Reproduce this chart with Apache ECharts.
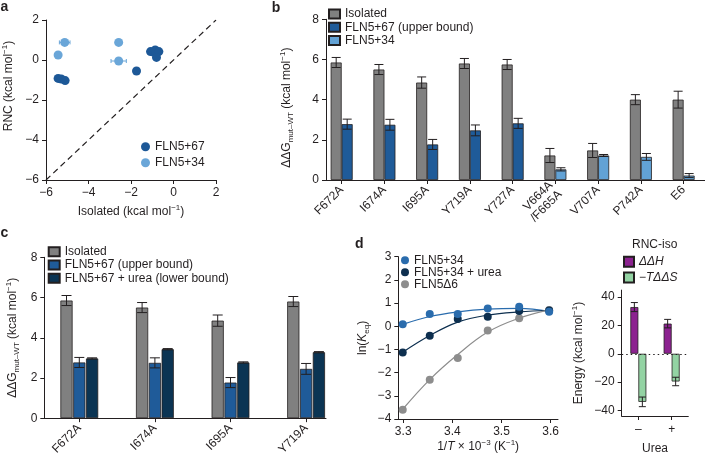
<!DOCTYPE html>
<html><head><meta charset="utf-8">
<script src="https://cdn.jsdelivr.net/npm/echarts@6/dist/echarts.min.js"></script>
<style>html,body{margin:0;padding:0;background:#fff}#c{width:705px;height:458px}</style>
</head><body><div id="c"></div>
<script>
// ---------- Panel a: RNC vs isolated ----------
const aX67 = [-5.43, -5.28, -5.10, -1.74, -1.08, -0.95, -0.86, -0.69, -0.80];
const aY67 = [-0.92, -0.95, -1.03, -0.55, 0.42, 0.40, 0.50, 0.42, 0.13];
const aX34 = [-5.12, -5.43, -2.58, -2.58];
const aY34 = [0.88, 0.25, 0.88, -0.05];
const aXErr34 = [0.25, 0, 0, 0.36];
const aDiag = [-6, 2];
const aTicks = [-6, -4, -2, 0, 2];

// ---------- Panel b ----------
const bCats = ['F672A', 'I674A', 'I695A', 'Y719A', 'Y727A', 'V664A\n/F665A', 'V707A', 'P742A', 'E6'];
const bIso = [5.85, 5.50, 4.85, 5.80, 5.75, 1.22, 1.47, 4.00, 4.00];
const bIsoErr = [0.25, 0.25, 0.28, 0.25, 0.25, 0.35, 0.35, 0.25, 0.42];
const b67 = [2.78, 2.75, 1.77, 2.47, 2.82, null, null, null, null];
const b67Err = [0.25, 0.27, 0.25, 0.27, 0.25, null, null, null, null];
const b34 = [null, null, null, null, null, 0.53, 1.22, 1.15, 0.22];
const b34Err = [null, null, null, null, null, 0.08, 0.05, 0.17, 0.10];
const bTicks = [0, 2, 4, 6, 8];

// ---------- Panel c ----------
const cCats = ['F672A', 'I674A', 'I695A', 'Y719A'];
const cIso = [5.85, 5.50, 4.85, 5.80];
const cIsoErr = [0.25, 0.25, 0.28, 0.25];
const c67 = [2.77, 2.75, 1.77, 2.45];
const c67Err = [0.25, 0.25, 0.25, 0.27];
const cUrea = [2.97, 3.43, 2.77, 3.28];
const cUreaErr = [0.03, 0.03, 0.03, 0.03];
const cTicks = [0, 2, 4, 6, 8];

// ---------- Panel d ----------
const dX = [3.299, 3.354, 3.411, 3.472, 3.536, 3.597];
const d34 = [0.09, 0.53, 0.53, 0.77, 0.84, 0.63];
const dUrea = [-1.13, -0.41, 0.31, 0.41, 0.66, 0.68];
const dDelta6 = [-3.60, -2.31, -1.37, -0.18, 0.35, 0.70];
const d34Fit = [0.08, 0.42, 0.62, 0.74, 0.77, 0.64];
const dUreaFit = [-1.12, -0.40, 0.18, 0.48, 0.62, 0.68];
const dDelta6Fit = [-3.58, -2.30, -1.22, -0.25, 0.35, 0.71];
const dXTicks = [3.3, 3.4, 3.5, 3.6];
const dYTicks = [-4, -3, -2, -1, 0, 1, 2, 3];

// ---------- Panel e ----------
const eCats = ['\u2013', '+'];
const eH = [33.0, 21.3];
const eHErr = [3.2, 3.0];
const eTS = [-34.0, -19.6];
const eTSErr = [3.4, 3.0];
const eTicks = [-40, -20, 0, 20, 40];

// ---------- styling ----------
const FONT = "'Liberation Sans', Arial, Helvetica, sans-serif";
const INK = '#231f20';
const C_GRAY = '#808080', C_B67 = '#1f5b99', C_B34 = '#62a2d5', C_NAVY = '#0b3453';
const C_A67 = '#1d5897', C_A34 = '#6aa6d8';
const C_D34 = '#2a6cad', C_DUREA = '#0d2f4f', C_DD6 = '#8d8d8d';
const C_PUR = '#8c2290', C_GRN = '#93d3a3';
const minus = v => (v < 0 ? '\u2212' + Math.abs(v) : String(v));
const RICH = {
  sup: { fontSize: 8, verticalAlign: 'top', fontFamily: FONT, color: INK },
  sub: { fontSize: 8, verticalAlign: 'bottom', fontFamily: FONT, color: INK },
  i: { fontStyle: 'italic', fontSize: 12, fontFamily: FONT, color: INK }
};
const nameStyle = extra => Object.assign({ fontSize: 12, fontFamily: FONT, color: INK, lineHeight: 16, rich: RICH }, extra || {});
const lineStyle = { color: INK, width: 1 };
const labelStyle = extra => Object.assign({ fontSize: 12, fontFamily: FONT, color: INK, margin: 7 }, extra || {});

function valAxis(o) {
  return Object.assign({
    type: 'value', splitLine: { show: false },
    axisLine: { show: true, onZero: false, lineStyle },
    axisTick: { show: true, length: 4, lineStyle },
    axisLabel: labelStyle({ formatter: minus })
  }, o);
}
function hiddenVal(o) {
  return Object.assign({ type: 'value', show: false, splitLine: { show: false } }, o);
}

function errBar(dx, cap, color, horizontal) {
  return function (params, api) {
    const x = api.value(0), y = api.value(1), e = api.value(2);
    const st = { stroke: color, lineWidth: 1 };
    if (horizontal) {
      const p1 = api.coord([x - e, y]), p2 = api.coord([x + e, y]);
      return { type: 'group', children: [
        { type: 'line', shape: { x1: p1[0], y1: p1[1], x2: p2[0], y2: p2[1] }, style: st },
        { type: 'line', shape: { x1: p1[0], y1: p1[1] - cap, x2: p1[0], y2: p1[1] + cap }, style: st },
        { type: 'line', shape: { x1: p2[0], y1: p2[1] - cap, x2: p2[0], y2: p2[1] + cap }, style: st }
      ]};
    }
    const t = api.coord([x, y + e]), b = api.coord([x, y - e]);
    const cx = t[0] + dx;
    return { type: 'group', children: [
      { type: 'line', shape: { x1: cx, y1: t[1], x2: cx, y2: b[1] }, style: st },
      { type: 'line', shape: { x1: cx - cap, y1: t[1], x2: cx + cap, y2: t[1] }, style: st },
      { type: 'line', shape: { x1: cx - cap, y1: b[1], x2: cx + cap, y2: b[1] }, style: st }
    ]};
  };
}
const errData = (vals, errs) => vals.map((v, i) => (v == null ? null : [i, v, errs[i]])).filter(d => d);
const barBorder = { borderColor: INK, borderWidth: 0.8 };
const dashData = arr => arr.map(v => (v == null ? '-' : v));
const strip = n => n.slice(2);

const grid = [
  { left: 42.7, top: 20, width: 173.3, height: 160 },      // 0 a
  { left: 326, top: 19.3, width: 379, height: 160.7 },      // 1 b frame
  { left: 320.3, top: 19.3, width: 385.2, height: 160.7 },  // 2 b bars
  { left: 44.3, top: 257.3, width: 281.7, height: 161 },    // 3 c frame
  { left: 41.5, top: 257.3, width: 302.4, height: 161 },    // 4 c bars
  { left: 398.3, top: 256.7, width: 159.7, height: 162.3 }, // 5 d
  { left: 621.7, top: 290.1, width: 66.6, height: 128.3 }   // 6 e
];

const xAxis = [
  valAxis({ gridIndex: 0, min: -6, max: 2, interval: 2,
    name: 'Isolated (kcal mol{sup|\u22121})', nameLocation: 'middle', nameGap: 24, nameTextStyle: nameStyle() }),
  hiddenVal({ gridIndex: 1, min: 0, max: 1, show: true, axisTick: { show: false }, axisLabel: { show: false },
    axisLine: { show: true, onZero: false, lineStyle } }),
  { type: 'category', gridIndex: 2, data: bCats, axisLine: { show: false, onZero: false },
    axisTick: { show: true, alignWithLabel: true, length: 4, lineStyle },
    axisLabel: labelStyle({ rotate: 45, interval: 0, lineHeight: 13, margin: 8 }) },
  hiddenVal({ gridIndex: 3, min: 0, max: 1, show: true, axisTick: { show: false }, axisLabel: { show: false },
    axisLine: { show: true, onZero: false, lineStyle } }),
  { type: 'category', gridIndex: 4, data: cCats, axisLine: { show: false, onZero: false },
    axisTick: { show: true, alignWithLabel: true, length: 4, lineStyle },
    axisLabel: labelStyle({ rotate: 45, interval: 0, margin: 8 }) },
  valAxis({ gridIndex: 5, min: 3.29, max: 3.615,
    axisTick: { show: true, length: 4, lineStyle, customValues: dXTicks },
    axisLabel: labelStyle({ customValues: dXTicks, formatter: v => v.toFixed(1) }),
    name: '1/{i|T} \u00d7 10{sup|\u22123} (K{sup|\u22121})', nameLocation: 'middle', nameGap: 19, nameTextStyle: nameStyle() }),
  { type: 'category', gridIndex: 6, data: eCats,
    axisLine: { show: true, onZero: false, lineStyle },
    axisTick: { show: true, alignWithLabel: true, length: 4, lineStyle },
    axisLabel: labelStyle({ margin: 8 }),
    name: 'Urea', nameLocation: 'middle', nameGap: 25, nameTextStyle: nameStyle() }
];

const yAxis = [
  valAxis({ gridIndex: 0, min: -6, max: 2, interval: 2,
    name: 'RNC (kcal mol{sup|\u22121})', nameLocation: 'middle', nameRotate: 90, nameGap: 29,
    nameTextStyle: nameStyle({ padding: [0, 0, 0, 28] }) }),
  valAxis({ gridIndex: 1, min: 0, max: 8, interval: 2,
    name: '\u0394\u0394G{sub|mut\u2013WT} (kcal mol{sup|\u22121})', nameLocation: 'middle', nameRotate: 90, nameGap: 31,
    nameTextStyle: nameStyle({ padding: [0, 16, 0, 0] }) }),
  hiddenVal({ gridIndex: 2, min: 0, max: 8 }),
  valAxis({ gridIndex: 3, min: 0, max: 8, interval: 2,
    name: '\u0394\u0394G{sub|mut\u2013WT} (kcal mol{sup|\u22121})', nameLocation: 'middle', nameRotate: 90, nameGap: 24,
    nameTextStyle: nameStyle() }),
  hiddenVal({ gridIndex: 4, min: 0, max: 8 }),
  valAxis({ gridIndex: 5, min: -4, max: 3, interval: 1,
    name: 'ln({i|K}{sub|eq})', nameLocation: 'middle', nameRotate: 90, nameGap: 28, nameTextStyle: nameStyle() }),
  valAxis({ gridIndex: 6, min: -44, max: 45,
    axisTick: { show: true, length: 4, lineStyle, customValues: eTicks },
    axisLabel: labelStyle({ customValues: eTicks, formatter: minus }),
    name: 'Energy (kcal mol{sup|\u22121})', nameLocation: 'middle', nameRotate: 90, nameGap: 35, nameTextStyle: nameStyle() })
];

const series = [
  // ---- a
  { type: 'line', name: 'identity', xAxisIndex: 0, yAxisIndex: 0, data: [[aDiag[0], aDiag[0]], [aDiag[1], aDiag[1]]],
    showSymbol: false, symbol: 'none', lineStyle: { color: INK, width: 1.2, type: [6, 4] }, z: 1, silent: true },
  { type: 'custom', name: 'a-err', xAxisIndex: 0, yAxisIndex: 0, renderItem: errBar(0, 2, C_A34, true),
    data: aX34.map((x, i) => [x, aY34[i], aXErr34[i]]).filter(d => d[2] > 0), z: 2 },
  { type: 'scatter', name: 'a:FLN5+67', xAxisIndex: 0, yAxisIndex: 0, symbolSize: 9,
    itemStyle: { color: C_A67, opacity: 1 }, data: aX67.map((x, i) => [x, aY67[i]]), z: 4 },
  { type: 'scatter', name: 'a:FLN5+34', xAxisIndex: 0, yAxisIndex: 0, symbolSize: 9,
    itemStyle: { color: C_A34, opacity: 1 }, data: aX34.map((x, i) => [x, aY34[i]]), z: 3 },
  // ---- b
  { type: 'bar', name: 'b:Isolated', xAxisIndex: 2, yAxisIndex: 2, data: bIso, barWidth: 11,
    itemStyle: Object.assign({ color: C_GRAY }, barBorder) },
  { type: 'bar', name: 'b:FLN5+67 (upper bound)', xAxisIndex: 2, yAxisIndex: 2, data: dashData(b67), stack: 'b2', barWidth: 11,
    itemStyle: Object.assign({ color: C_B67 }, barBorder) },
  { type: 'bar', name: 'b:FLN5+34', xAxisIndex: 2, yAxisIndex: 2, data: dashData(b34), stack: 'b2', barWidth: 11, barGap: '0%',
    itemStyle: Object.assign({ color: C_B34 }, barBorder) },
  { type: 'custom', name: 'b-err1', xAxisIndex: 2, yAxisIndex: 2, renderItem: errBar(-5.5, 4.5, INK), data: errData(bIso, bIsoErr), z: 5 },
  { type: 'custom', name: 'b-err2', xAxisIndex: 2, yAxisIndex: 2, renderItem: errBar(5.5, 4.5, INK), data: errData(b67, b67Err), z: 5 },
  { type: 'custom', name: 'b-err3', xAxisIndex: 2, yAxisIndex: 2, renderItem: errBar(5.5, 4.5, INK), data: errData(b34, b34Err), z: 5 },
  // ---- c
  { type: 'bar', name: 'c:Isolated', xAxisIndex: 4, yAxisIndex: 4, data: cIso, barWidth: 12.2,
    itemStyle: Object.assign({ color: C_GRAY }, barBorder) },
  { type: 'bar', name: 'c:FLN5+67 (upper bound)', xAxisIndex: 4, yAxisIndex: 4, data: c67, barWidth: 12.2,
    itemStyle: Object.assign({ color: C_B67 }, barBorder) },
  { type: 'bar', name: 'c:FLN5+67 + urea (lower bound)', xAxisIndex: 4, yAxisIndex: 4, data: cUrea, barWidth: 12.2, barGap: '5%',
    itemStyle: Object.assign({ color: C_NAVY }, barBorder) },
  { type: 'custom', name: 'c-err1', xAxisIndex: 4, yAxisIndex: 4, renderItem: errBar(-12.8, 5, INK), data: errData(cIso, cIsoErr), z: 5 },
  { type: 'custom', name: 'c-err2', xAxisIndex: 4, yAxisIndex: 4, renderItem: errBar(0, 5, INK), data: errData(c67, c67Err), z: 5 },
  { type: 'custom', name: 'c-err3', xAxisIndex: 4, yAxisIndex: 4, renderItem: errBar(12.8, 5, INK), data: errData(cUrea, cUreaErr), z: 5 },
  // ---- d
  { type: 'line', name: 'd34fit', xAxisIndex: 5, yAxisIndex: 5, smooth: 0.4, showSymbol: false, symbol: 'none',
    lineStyle: { color: C_D34, width: 1.2 }, data: dX.map((x, i) => [x, d34Fit[i]]), z: 2 },
  { type: 'line', name: 'dureafit', xAxisIndex: 5, yAxisIndex: 5, smooth: 0.4, showSymbol: false, symbol: 'none',
    lineStyle: { color: C_DUREA, width: 1.2 }, data: dX.map((x, i) => [x, dUreaFit[i]]), z: 2 },
  { type: 'line', name: 'dd6fit', xAxisIndex: 5, yAxisIndex: 5, smooth: 0.4, showSymbol: false, symbol: 'none',
    lineStyle: { color: C_DD6, width: 1.2 }, data: dX.map((x, i) => [x, dDelta6Fit[i]]), z: 2 },
  { type: 'scatter', name: 'd:FLN5Δ6', xAxisIndex: 5, yAxisIndex: 5, symbolSize: 8,
    itemStyle: { color: C_DD6, opacity: 1 }, data: dX.map((x, i) => [x, dDelta6[i]]), z: 3 },
  { type: 'scatter', name: 'd:FLN5+34 + urea', xAxisIndex: 5, yAxisIndex: 5, symbolSize: 8,
    itemStyle: { color: C_DUREA, opacity: 1 }, data: dX.map((x, i) => [x, dUrea[i]]), z: 4 },
  { type: 'scatter', name: 'd:FLN5+34', xAxisIndex: 5, yAxisIndex: 5, symbolSize: 8,
    itemStyle: { color: C_D34, opacity: 1 }, data: dX.map((x, i) => [x, d34[i]]), z: 5 },
  // ---- e
  { type: 'bar', name: 'e:dH', xAxisIndex: 6, yAxisIndex: 6, data: eH, barWidth: 8,
    itemStyle: Object.assign({ color: C_PUR }, barBorder),
    markLine: { silent: true, symbol: 'none', label: { show: false },
      lineStyle: { color: INK, type: [1.5, 3], width: 1.2 }, data: [{ yAxis: 0 }] } },
  { type: 'bar', name: 'e:TdS', xAxisIndex: 6, yAxisIndex: 6, data: eTS, barWidth: 8, barGap: '0%',
    itemStyle: Object.assign({ color: C_GRN }, barBorder) },
  { type: 'custom', name: 'e-err1', xAxisIndex: 6, yAxisIndex: 6, renderItem: errBar(-4, 3.5, INK), data: errData(eH, eHErr), z: 5 },
  { type: 'custom', name: 'e-err2', xAxisIndex: 6, yAxisIndex: 6, renderItem: errBar(4, 3.5, INK), data: errData(eTS, eTSErr), z: 5 }
];

const legText = extra => Object.assign({ fontSize: 12, fontFamily: FONT, color: INK }, extra);
const legend = [
  { data: ['a:FLN5+67', 'a:FLN5+34'], orient: 'vertical', left: 141, top: 139.7, padding: 0, icon: 'circle',
    itemWidth: 9, itemHeight: 9, itemGap: 2, selectedMode: false, formatter: strip, textStyle: legText({ lineHeight: 14 }) },
  { data: ['b:Isolated', 'b:FLN5+67 (upper bound)', 'b:FLN5+34'], orient: 'vertical', left: 328, top: 7.5, padding: 0, icon: 'rect',
    itemWidth: 11, itemHeight: 9, itemGap: 0.3, selectedMode: false, formatter: strip, textStyle: legText({ lineHeight: 13 }) },
  { data: ['c:Isolated', 'c:FLN5+67 (upper bound)', 'c:FLN5+67 + urea (lower bound)'], orient: 'vertical', left: 47.7, top: 245.2, padding: 0, icon: 'rect',
    itemWidth: 11, itemHeight: 9, itemGap: 0.3, selectedMode: false, formatter: strip, textStyle: legText({ lineHeight: 13 }) },
  { data: ['d:FLN5+34', 'd:FLN5+34 + urea', 'd:FLN5Δ6'], orient: 'vertical', left: 401, top: 254.2, padding: 0, icon: 'circle',
    itemWidth: 8, itemHeight: 8, itemGap: 0, selectedMode: false, formatter: strip, textStyle: legText({ lineHeight: 11.7 }) },
  { data: ['e:dH', 'e:TdS'], orient: 'vertical', left: 623, top: 254.7, padding: 0, icon: 'rect',
    itemWidth: 10, itemHeight: 10, itemGap: 1.8, selectedMode: false,
    formatter: n => (n === 'e:dH' ? '{i|\u0394\u0394H}' : '{t|\u2212}{i|T\u0394\u0394S}'),
    textStyle: legText({ lineHeight: 14, rich: { i: { fontStyle: 'italic', fontSize: 12, fontFamily: FONT, color: INK },
      t: { fontSize: 12, fontFamily: FONT, color: INK } } }) }
];

const letter = (t, x, y) => ({ type: 'text', x, y, style: { text: t, font: 'bold 14px ' + FONT, fill: INK, verticalAlign: 'bottom' } });

const option = {
  animation: false,
  backgroundColor: '#ffffff',
  textStyle: { fontFamily: FONT },
  title: { text: 'RNC-iso', left: 632, top: 239, padding: 0,
    textStyle: { fontSize: 12, fontWeight: 'normal', fontFamily: FONT, color: INK } },
  grid, xAxis, yAxis, series, legend,
  graphic: [letter('a', 0.5, 14), letter('b', 271.7, 15), letter('c', 0.5, 239.7), letter('d', 355, 250.7)]
};

const chart = echarts.init(document.getElementById('c'), null, { renderer: 'canvas' });
chart.setOption(option);
</script>
</body></html>
